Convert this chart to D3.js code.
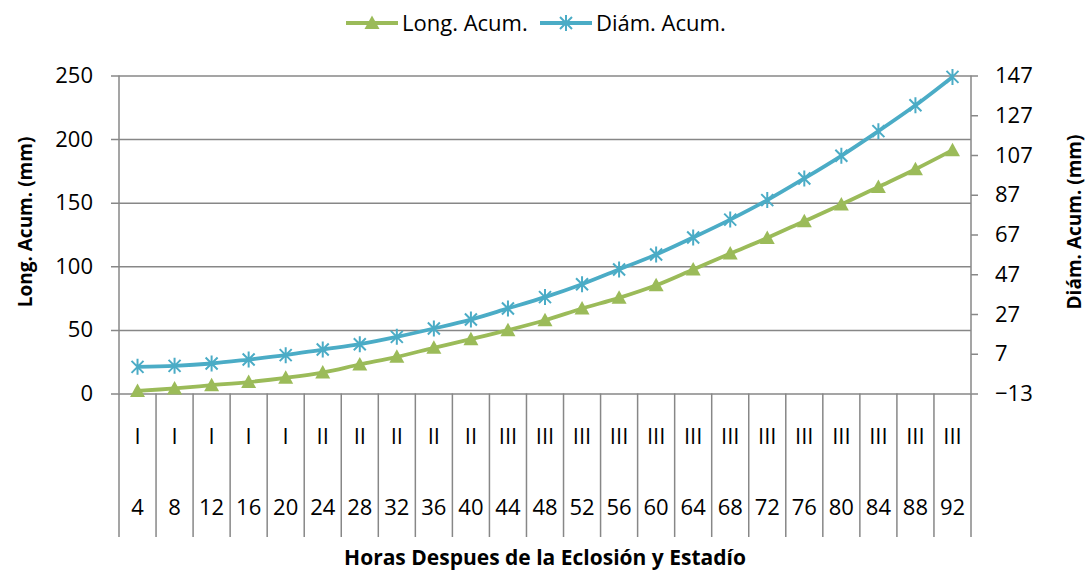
<!DOCTYPE html>
<html>
<head>
<meta charset="utf-8">
<script src="https://cdn.jsdelivr.net/npm/d3@7"></script>
<style>
  html, body { margin: 0; padding: 0; background: #fff; }
  svg { display: block; font-family: "Open Sans", "DejaVu Sans", sans-serif; }
</style>
</head>
<body>
<svg id="chart" width="1087" height="570"></svg>
<script>
// Hours after hatching and larval stage for each sample
const hours = [4, 8, 12, 16, 20, 24, 28, 32, 36, 40, 44, 48, 52, 56, 60, 64, 68, 72, 76, 80, 84, 88, 92];
const stages = ["I", "I", "I", "I", "I", "II", "II", "II", "II", "II", "III", "III", "III",
                "III", "III", "III", "III", "III", "III", "III", "III", "III", "III"];

// Cumulative length (left axis, mm)
const longAcum = [2, 4, 6.5, 9, 12.3, 16.5, 22.8, 28.8, 35.9, 42.7, 49.8, 57.6, 66.8,
                  75.2, 85.1, 97.5, 110, 122.3, 135.5, 148.6, 162.4, 176.3, 191.3];
// Cumulative diameter (right axis, mm)
const diamAcum = [0.4, 0.9, 2.1, 4.1, 6.3, 9.1, 11.8, 15.5, 19.7, 24.2, 29.8, 35.5, 42,
                  49.4, 56.9, 65.5, 74.5, 84.3, 95.2, 106.6, 119, 132, 146.3];

const leftTicks = [0, 50, 100, 150, 200, 250];
const rightTicks = [-13, 7, 27, 47, 67, 87, 107, 127, 147];

const seriesNames = ["Long. Acum.", "Diám. Acum."];
const colors = { long: "#9BBB59", diam: "#4BACC6" };
const gridColor = "#878787";
const labelSize = 22;

const svg = d3.select("#chart");
const plot = { left: 119, right: 971, top: 75.5, bottom: 393.5 };

const x = d3.scaleBand().domain(d3.range(hours.length)).range([plot.left, plot.right]).padding(0);
const yL = d3.scaleLinear().domain([0, 250]).range([plot.bottom, plot.top]);
const yR = d3.scaleLinear().domain([-13, 147]).range([plot.bottom, plot.top]);
const cx = i => x(i) + x.bandwidth() / 2;

// Horizontal gridlines with left ticks
const leftAxis = d3.axisLeft(yL).tickValues(leftTicks).tickSize(-(plot.right - plot.left)).tickPadding(26);
const gL = svg.append("g").attr("transform", `translate(${plot.left},0)`).call(leftAxis);
gL.select(".domain").remove();
gL.selectAll(".tick line").attr("stroke", gridColor).attr("stroke-width", 1.5).attr("x1", -8);
gL.selectAll(".tick text").attr("font-size", labelSize).attr("fill", "#000").attr("font-family", "Open Sans");

// Right axis
const rightAxis = d3.axisRight(yR).tickValues(rightTicks).tickSize(7).tickPadding(17);
const gR = svg.append("g").attr("transform", `translate(${plot.right},0)`).call(rightAxis);
gR.select(".domain").remove();
gR.selectAll(".tick line").attr("stroke", gridColor).attr("stroke-width", 1.5);
gR.selectAll(".tick text").attr("font-size", labelSize).attr("fill", "#000").attr("font-family", "Open Sans");

// Vertical axis lines
svg.append("line").attr("x1", plot.left).attr("x2", plot.left).attr("y1", plot.top).attr("y2", plot.bottom)
  .attr("stroke", gridColor).attr("stroke-width", 1.5);
svg.append("line").attr("x1", plot.right).attr("x2", plot.right).attr("y1", plot.top).attr("y2", plot.bottom)
  .attr("stroke", gridColor).attr("stroke-width", 1.5);

// Category separators under the plot (two-level axis)
const sepBottom = 537;
const bounds = d3.range(hours.length + 1).map(i => i < hours.length ? x(i) : plot.right);
svg.append("g").selectAll("line").data(bounds).join("line")
  .attr("x1", d => d).attr("x2", d => d)
  .attr("y1", plot.bottom).attr("y2", sepBottom)
  .attr("stroke", gridColor).attr("stroke-width", 1.5);

svg.append("g").selectAll("text").data(stages).join("text")
  .attr("x", (d, i) => cx(i)).attr("y", 444)
  .attr("text-anchor", "middle").attr("font-size", labelSize).text(d => d);

svg.append("g").selectAll("text").data(hours).join("text")
  .attr("x", (d, i) => cx(i)).attr("y", 515)
  .attr("text-anchor", "middle").attr("font-size", labelSize).text(d => d);

// Series lines
const lineL = d3.line().x((d, i) => cx(i)).y(d => yL(d)).curve(d3.curveCatmullRom.alpha(0.5));
const lineR = d3.line().x((d, i) => cx(i)).y(d => yR(d)).curve(d3.curveCatmullRom.alpha(0.5));

svg.append("path").datum(longAcum).attr("d", lineL)
  .attr("fill", "none").attr("stroke", colors.long).attr("stroke-width", 3.8);
svg.append("path").datum(diamAcum).attr("d", lineR)
  .attr("fill", "none").attr("stroke", colors.diam).attr("stroke-width", 3.8);

// Markers
const tri = "M0,-7.5 L7.5,6 L-7.5,6 Z";
const star = "M-6,-6 L6,6 M-6,6 L6,-6 M0,-8 L0,8";

svg.append("g").selectAll("path").data(longAcum).join("path")
  .attr("transform", (d, i) => `translate(${cx(i)},${yL(d)})`)
  .attr("d", tri).attr("fill", colors.long);

svg.append("g").selectAll("path").data(diamAcum).join("path")
  .attr("transform", (d, i) => `translate(${cx(i)},${yR(d)})`)
  .attr("d", star).attr("fill", "none").attr("stroke", colors.diam).attr("stroke-width", 2);

// Axis titles
const titleMid = 222;
svg.append("text").attr("transform", `translate(32,${titleMid}) rotate(-90)`)
  .attr("text-anchor", "middle").attr("font-weight", "bold").attr("font-size", 19)
  .text("Long. Acum. (mm)");
svg.append("text").attr("transform", `translate(1081,${titleMid}) rotate(-90)`)
  .attr("text-anchor", "middle").attr("font-weight", "bold").attr("font-size", 19)
  .text("Diám. Acum. (mm)");
svg.append("text").attr("x", 545).attr("y", 565)
  .attr("text-anchor", "middle").attr("font-weight", "bold").attr("font-size", 21)
  .text("Horas Despues de la Eclosión y Estadío");

// Legend
const legend = svg.append("g");
const items = [
  { name: seriesNames[0], color: colors.long, marker: tri, x0: 346, fill: true },
  { name: seriesNames[1], color: colors.diam, marker: star, x0: 540, fill: false }
];
items.forEach(it => {
  legend.append("line").attr("x1", it.x0).attr("x2", it.x0 + 52).attr("y1", 23).attr("y2", 23)
    .attr("stroke", it.color).attr("stroke-width", 3.8);
  legend.append("path").attr("transform", `translate(${it.x0 + 26},23)`).attr("d", it.marker)
    .attr("fill", it.fill ? it.color : "none").attr("stroke", it.fill ? "none" : it.color).attr("stroke-width", 2);
  legend.append("text").attr("x", it.x0 + 56).attr("y", 31).attr("font-size", labelSize).text(it.name);
});
</script>
</body>
</html>
